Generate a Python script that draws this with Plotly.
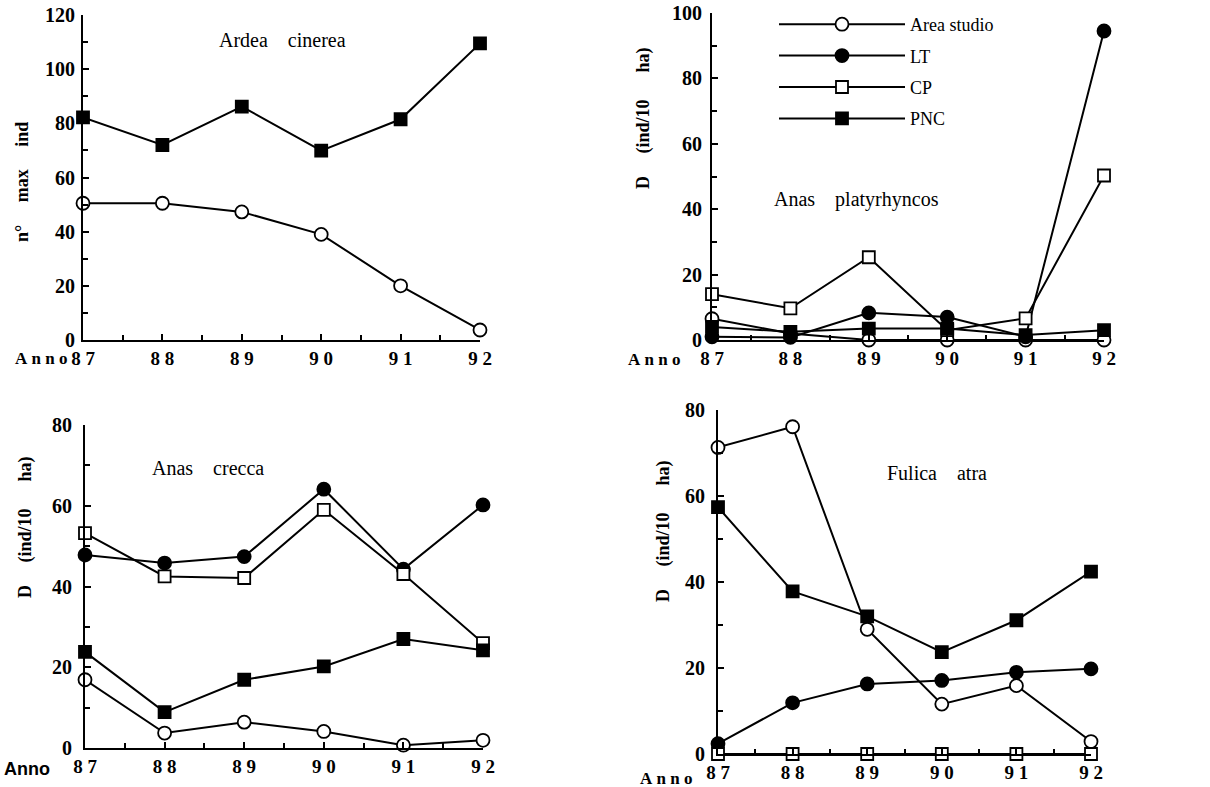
import plotly.graph_objects as go

years = [87, 88, 89, 90, 91, 92]
year_labels = ["8\u00a07", "8\u00a08", "8\u00a09", "9\u00a00", "9\u00a01", "9\u00a02"]

# Ardea cinerea (n° max ind)
ardea_area = [50.5, 50.5, 47.3, 39, 20, 3.7]
ardea_pnc = [82.2, 72, 86.2, 69.9, 81.5, 109.5]

# Anas platyrhyncos (D ind/10 ha)
plat_area = [6.5, 2, 0, 0, 0, 0]
plat_lt = [1, 0.8, 8.3, 7, 1, 94.5]
plat_cp = [14, 9.7, 25.3, 3, 6.6, 50.3]
plat_pnc = [4, 2.5, 3.5, 3.5, 1.5, 3]

# Anas crecca
crecca_area = [16.9, 3.7, 6.4, 4.1, 0.7, 1.9]
crecca_lt = [47.8, 45.8, 47.4, 64.1, 44.3, 60.2]
crecca_cp = [53.2, 42.5, 42.1, 59, 43.1, 26]
crecca_pnc = [23.8, 8.9, 16.9, 20.2, 27, 24.2]

# Fulica atra
fulica_area = [71.3, 76.1, 29, 11.6, 15.9, 2.9]
fulica_lt = [2.4, 11.9, 16.3, 17.1, 19, 19.8]
fulica_cp = [0, 0, 0, 0, 0, 0]
fulica_pnc = [57.4, 37.8, 32, 23.7, 31.1, 42.4]

series_names = ["Area studio", "LT", "CP", "PNC"]

W, H = 1210, 787
SERIF = "Liberation Serif"

styles = {
    "Area studio": dict(symbol="circle", color="white", size=13),
    "LT": dict(symbol="circle", color="black", size=13),
    "CP": dict(symbol="square", color="white", size=12),
    "PNC": dict(symbol="square", color="black", size=12),
}

fig = go.Figure()


def add(name, yvals, xa, ya, legend=False):
    st = styles[name]
    fig.add_trace(go.Scatter(
        x=years, y=yvals, name=name, mode="lines+markers",
        xaxis=xa, yaxis=ya, cliponaxis=False,
        line=dict(color="black", width=2),
        marker=dict(symbol=st["symbol"], size=st["size"], color=st["color"],
                    line=dict(color="black", width=1.8)),
        showlegend=legend, legendgroup=name,
    ))


add("Area studio", ardea_area, "x", "y")
add("PNC", ardea_pnc, "x", "y")

for nm, vals in zip(series_names, [plat_area, plat_lt, plat_cp, plat_pnc]):
    add(nm, vals, "x2", "y2", legend=True)
for nm, vals in zip(series_names, [crecca_area, crecca_lt, crecca_cp, crecca_pnc]):
    add(nm, vals, "x3", "y3")
for nm, vals in zip(series_names, [fulica_area, fulica_lt, fulica_cp, fulica_pnc]):
    add(nm, vals, "x4", "y4")


def px(x):
    return x / W


def py(y):
    return 1 - y / H


half_years = [y + 0.5 for y in years[:-1]]


def xaxis(dom, anchor):
    return dict(domain=[px(dom[0]), px(dom[1])], anchor=anchor, range=[87, 92],
                automargin=False,
                tickmode="array", tickvals=years, ticktext=year_labels,
                showline=True, linecolor="black", linewidth=2,
                ticks="inside", ticklen=6, tickwidth=1.5, tickcolor="black",
                minor=dict(tickvals=half_years, ticks="inside", ticklen=5,
                           tickwidth=1.5, tickcolor="black"),
                showgrid=False, zeroline=False,
                tickfont=dict(family=SERIF, size=19, color="black", weight="bold"))


def yaxis(dom, anchor, top, standoff):
    return dict(domain=[py(dom[1]), py(dom[0])], anchor=anchor, range=[0, top],
                automargin=False,
                dtick=20, tick0=0,
                showline=True, linecolor="black", linewidth=2,
                ticks="inside", ticklen=6, tickwidth=1.5, tickcolor="black",
                minor=dict(dtick=10, ticks="inside", ticklen=5,
                           tickwidth=1.5, tickcolor="black"),
                showgrid=False, zeroline=False, ticklabelstandoff=standoff,
                tickfont=dict(family=SERIF, size=20, color="black", weight="bold"))


fig.update_layout(
    xaxis=xaxis((83, 480), "y"), yaxis=yaxis((15, 340), "x", 120, 2),
    xaxis2=xaxis((712, 1104), "y2"), yaxis2=yaxis((13, 340), "x2", 100, 4),
    xaxis3=xaxis((85, 483), "y3"), yaxis3=yaxis((425, 748), "x3", 80, 7),
    xaxis4=xaxis((718, 1091), "y4"), yaxis4=yaxis((410, 754), "x4", 80, 7),
)

ann = []


def text(x, y, s, size=19, bold=False, angle=0, family=SERIF, xanchor="center"):
    ann.append(dict(x=px(x), y=py(y), xref="paper", yref="paper", text=s,
                    showarrow=False, textangle=angle, xanchor=xanchor, yanchor="middle",
                    font=dict(family=family, size=size, color="black",
                              weight="bold" if bold else "normal")))


NB = "\u00a0"
text(282, 40, "Ardea" + NB * 4 + "cinerea", size=20)
text(856, 200, "Anas" + NB * 4 + "platyrhyncos", size=20)
text(208, 468, "Anas" + NB * 4 + "crecca", size=20)
text(937, 473, "Fulica" + NB * 4 + "atra", size=20)

ylab = "D" + NB * 5 + "(ind/10" + NB * 6 + "ha)"
text(22, 182, "n°" + NB * 5 + "max" + NB * 5 + "ind", size=18, bold=True, angle=-90)
text(643, 118, ylab, size=18, bold=True, angle=-90)
text(25, 527, ylab, size=18, bold=True, angle=-90)
text(663, 531, ylab, size=18, bold=True, angle=-90)

anno_lbl = "A" + NB + "n" + NB + "n" + NB + "o"
text(69, 358, anno_lbl, size=17, bold=True, xanchor="right")
text(682, 359, anno_lbl, size=17, bold=True, xanchor="right")
text(52, 769, "Anno", size=18, bold=True, family="Liberation Sans", xanchor="right")
text(694, 778, anno_lbl, size=17, bold=True, xanchor="right")

fig.update_layout(
    annotations=ann,
    width=W, height=H,
    margin=dict(l=0, r=0, t=0, b=0),
    paper_bgcolor="white", plot_bgcolor="white",
    hovermode=False,
    showlegend=True,
    legend=dict(x=px(774), y=py(6), xanchor="left", yanchor="top",
                font=dict(family=SERIF, size=18, color="black"),
                tracegroupgap=5, bgcolor="rgba(0,0,0,0)", itemwidth=126),
)

fig.write_html("out.html", config={"displayModeBar": False},
               post_script="document.body.style.margin='0px';document.body.style.overflow='hidden';")
